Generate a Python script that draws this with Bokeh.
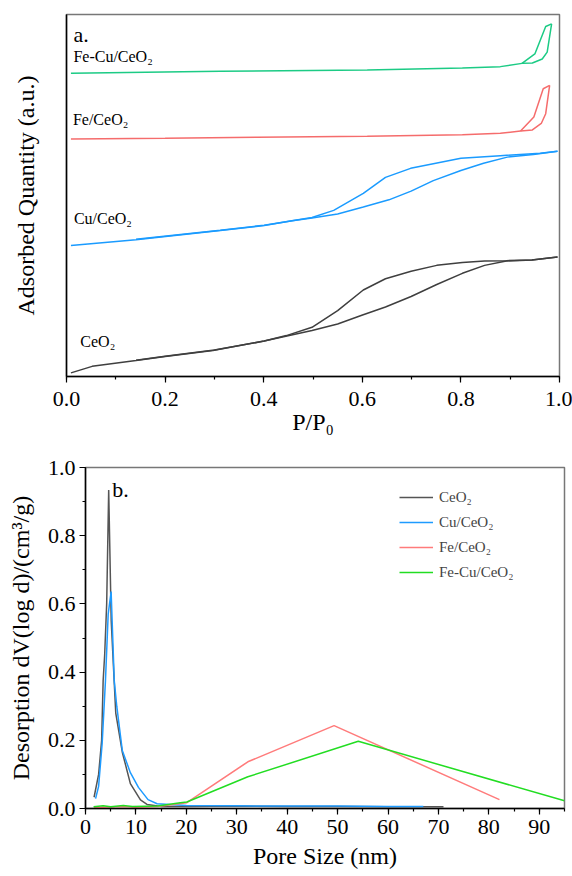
from bokeh.plotting import figure
from bokeh.models import Range1d, SingleIntervalTicker, FixedTicker, PrintfTickFormatter, Label
from bokeh.embed import file_html
from bokeh.resources import INLINE

FONT = "Times"
LFONT = "Liberation Serif"

# ---------------- Panel a: isotherms (arbitrary units, offset) ----------------
ceo2_ads_x = [0.009, 0.052, 0.141, 0.2, 0.297, 0.401, 0.498, 0.55, 0.599, 0.647, 0.699, 0.751, 0.803, 0.848, 0.892, 0.944, 0.996]
ceo2_ads_y = [1.0, 2.8, 4.4, 5.5, 7.2, 9.8, 12.7, 14.5, 16.9, 19.2, 22.1, 25.4, 28.5, 30.7, 31.9, 32.2, 33.0]
ceo2_des_x = [0.996, 0.944, 0.892, 0.848, 0.803, 0.751, 0.699, 0.647, 0.602, 0.55, 0.498, 0.446, 0.401, 0.3, 0.2, 0.141]
ceo2_des_y = [33.0, 32.2, 32.0, 31.9, 31.5, 30.7, 29.1, 27.0, 23.9, 18.2, 13.6, 11.3, 9.8, 7.3, 5.6, 4.5]

cu_ads_x = [0.009, 0.141, 0.312, 0.401, 0.458, 0.498, 0.55, 0.602, 0.654, 0.699, 0.744, 0.8, 0.846, 0.894, 0.947, 0.996]
cu_ads_y = [36.2, 37.8, 40.3, 41.7, 43.0, 43.8, 44.9, 46.8, 48.8, 51.2, 54.1, 56.9, 58.9, 60.6, 61.3, 62.2]
cu_des_x = [0.996, 0.961, 0.88, 0.8, 0.744, 0.698, 0.647, 0.602, 0.542, 0.498, 0.401, 0.312, 0.141]
cu_des_y = [62.2, 61.7, 61.0, 60.3, 58.8, 57.5, 55.0, 50.6, 45.9, 43.9, 41.8, 40.4, 37.9]

fe_ads_x = [0.009, 0.2, 0.387, 0.61, 0.803, 0.88, 0.921, 0.945, 0.963, 0.972, 0.98]
fe_ads_y = [65.6, 65.8, 66.1, 66.4, 66.8, 67.2, 67.8, 68.1, 69.9, 72.6, 80.4]
fe_des_x = [0.98, 0.967, 0.948, 0.921]
fe_des_y = [80.4, 79.5, 71.7, 67.8]

fecu_ads_x = [0.009, 0.312, 0.61, 0.803, 0.88, 0.924, 0.945, 0.965, 0.975, 0.984]
fecu_ads_y = [83.8, 84.3, 84.7, 85.2, 85.6, 86.5, 86.6, 87.7, 89.6, 97.4]
fecu_des_x = [0.984, 0.972, 0.95, 0.924]
fecu_des_y = [97.4, 96.7, 89.1, 86.5]

# ---------------- Panel b: pore size distribution ----------------
ceo2_psd_x = [1.7, 2.6, 3.2, 3.5, 3.8, 4.2, 4.6, 5.1, 6.0, 7.3, 8.9, 10.9, 12.2, 15.1, 20, 30, 40, 50, 60, 71]
ceo2_psd_y = [0.033, 0.10, 0.20, 0.375, 0.45, 0.60, 0.934, 0.55, 0.28, 0.165, 0.073, 0.025, 0.012, 0.006, 0.006, 0.007, 0.006, 0.006, 0.005, 0.005]

cu_psd_x = [2.0, 2.6, 3.3, 3.96, 4.5, 5.08, 5.7, 6.2, 7.3, 8.9, 10.5, 12.4, 14.2, 20, 30, 40, 50, 60, 67]
cu_psd_y = [0.029, 0.065, 0.19, 0.375, 0.57, 0.636, 0.375, 0.30, 0.17, 0.105, 0.062, 0.026, 0.014, 0.009, 0.008, 0.007, 0.007, 0.006, 0.006]

fe_psd_x = [1.7, 3.5, 7.5, 10, 14.3, 20.1, 32.2, 49.3, 82.1]
fe_psd_y = [0.003, 0.004, 0.006, 0.004, 0.006, 0.017, 0.137, 0.243, 0.026]

fecu_psd_x = [1.6, 3.5, 5.0, 7.5, 9.3, 14.3, 18.8, 20.1, 32.2, 54.1, 95]
fecu_psd_y = [0.005, 0.008, 0.005, 0.009, 0.006, 0.007, 0.017, 0.019, 0.093, 0.197, 0.0225]

series_names = ["CeO₂", "Cu/CeO₂", "Fe/CeO₂", "Fe-Cu/CeO₂"]

iso_colors = ["#3f3f3f", "#1a9bff", "#f56c6c", "#1ccb85"]
psd_colors = ["#555555", "#1e9bff", "#ff7b7b", "#22dd22"]


def style_axis(ax, size="22px"):
    ax.axis_line_color = "black"
    ax.axis_line_width = 1.5
    ax.major_tick_line_color = "black"
    ax.minor_tick_line_color = "black"
    ax.major_tick_line_width = 1.2
    ax.minor_tick_line_width = 1.2
    ax.major_tick_in = 0
    ax.major_tick_out = 6
    ax.minor_tick_in = 0
    ax.minor_tick_out = 3
    ax.major_label_text_font = FONT
    ax.major_label_text_font_size = size
    ax.major_label_text_color = "black"
    ax.axis_label_text_font = FONT
    ax.axis_label_text_font_size = "24px"
    ax.axis_label_text_font_style = "normal"
    ax.axis_label_text_color = "black"


# ---------------- Figure a ----------------
p1 = figure(width=572, height=450, output_backend="svg", toolbar_location=None,
            x_range=Range1d(0, 1.0), y_range=Range1d(0, 100),
            min_border_left=66, min_border_right=13, min_border_top=14, min_border_bottom=74)
p1.grid.visible = False
p1.outline_line_color = "#777777"
p1.outline_line_width = 1.5

lw = 1.5
for xa, ya, xd, yd, c in [
    (ceo2_ads_x, ceo2_ads_y, ceo2_des_x, ceo2_des_y, iso_colors[0]),
    (cu_ads_x, cu_ads_y, cu_des_x, cu_des_y, iso_colors[1]),
    (fe_ads_x, fe_ads_y, fe_des_x, fe_des_y, iso_colors[2]),
    (fecu_ads_x, fecu_ads_y, fecu_des_x, fecu_des_y, iso_colors[3]),
]:
    p1.line(xa, ya, line_color=c, line_width=lw)
    p1.line(xd, yd, line_color=c, line_width=lw)

style_axis(p1.xaxis[0])
p1.xaxis.ticker = SingleIntervalTicker(interval=0.2, num_minor_ticks=2)
p1.xaxis.formatter = PrintfTickFormatter(format="%.1f")
p1.xaxis.major_label_standoff = 9
p1.xaxis.axis_label = "P/P₀"
p1.xaxis.axis_label_standoff = 0

style_axis(p1.yaxis[0])
p1.yaxis.ticker = FixedTicker(ticks=[])
p1.yaxis.major_tick_out = 0
p1.yaxis.minor_tick_out = 0
p1.yaxis.axis_label = "Adsorbed Quantity (a.u.)"
p1.yaxis.axis_label_standoff = 28

p1.add_layout(Label(x=0.014, y=94.5, text="a.", text_font=LFONT, text_font_size="22px",
                    text_color="black", text_baseline="alphabetic"))
for name, lx, ly in [(series_names[3], 0.014, 88.5), (series_names[2], 0.013, 71.0),
                     (series_names[1], 0.015, 43.7), (series_names[0], 0.028, 9.8)]:
    p1.add_layout(Label(x=lx, y=ly, text=name, text_font=LFONT, text_font_size="16px",
                        text_color="black", text_baseline="alphabetic"))

# ---------------- Figure b ----------------
p2 = figure(width=572, height=426, output_backend="svg", toolbar_location=None,
            x_range=Range1d(0, 95), y_range=Range1d(0, 1.0),
            min_border_left=85, min_border_right=8, min_border_top=17, min_border_bottom=68)
p2.grid.visible = False
p2.outline_line_color = "#777777"
p2.outline_line_width = 1.5

for xs, ys, c, nm in [
    (ceo2_psd_x, ceo2_psd_y, psd_colors[0], series_names[0]),
    (cu_psd_x, cu_psd_y, psd_colors[1], series_names[1]),
    (fe_psd_x, fe_psd_y, psd_colors[2], series_names[2]),
    (fecu_psd_x, fecu_psd_y, psd_colors[3], series_names[3]),
]:
    p2.line(xs, ys, line_color=c, line_width=1.5, legend_label=nm)

style_axis(p2.xaxis[0])
p2.xaxis.ticker = SingleIntervalTicker(interval=10, num_minor_ticks=2)
p2.xaxis.major_label_standoff = 5
p2.xaxis.axis_label = "Pore Size (nm)"
p2.xaxis.axis_label_standoff = 6

style_axis(p2.yaxis[0])
p2.yaxis.ticker = SingleIntervalTicker(interval=0.2, num_minor_ticks=2)
p2.yaxis.formatter = PrintfTickFormatter(format="%.1f")
p2.yaxis.major_label_standoff = 4
p2.yaxis.axis_label = "Desorption dV(log d)/(cm³/g)"
p2.yaxis.axis_label_standoff = 11

p2.add_layout(Label(x=5.3, y=0.935, text="b.", text_font=LFONT, text_font_size="22px",
                    text_color="black", text_baseline="alphabetic"))

lg = p2.legend[0]
lg.location = (314, 226)
lg.border_line_color = None
lg.background_fill_alpha = 0
lg.padding = 0
lg.margin = 0
lg.spacing = 5
lg.glyph_width = 34
lg.glyph_height = 20
lg.label_height = 20
lg.label_standoff = 6
lg.label_text_font = LFONT
lg.label_text_font_size = "15px"

open("out.html", "w").write(file_html([p1, p2], INLINE))
